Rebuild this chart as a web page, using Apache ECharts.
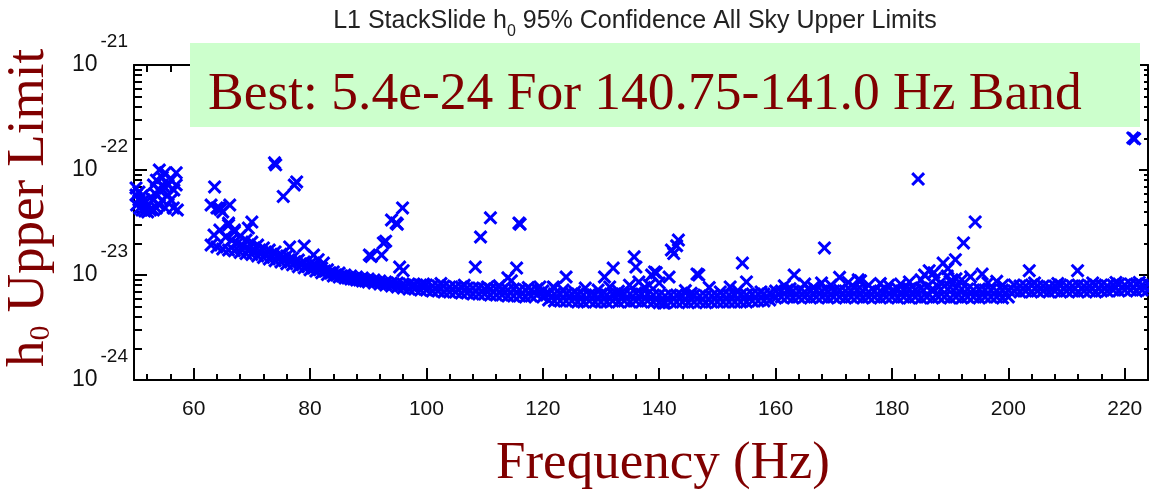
<!DOCTYPE html>
<html><head><meta charset="utf-8">
<script src="https://cdn.jsdelivr.net/npm/echarts@6/dist/echarts.min.js"></script>
<style>html,body{margin:0;padding:0;background:#fff}#c{width:1149px;height:493px}</style>
</head><body><div id="c"></div>
<script>
// ---- tick definitions ----
const xMajorTicks = [60,80,100,120,140,160,180,200,220];
const xMinorTicks = [52,56,64,68,72,76,84,88,92,96,104,108,112,116,124,128,132,136,144,148,152,156,164,168,172,176,184,188,192,196,204,208,212,216];
const yMajorTicks = [1e-24,1e-23,1e-22,1e-21];
const yTickExponents = ['-24','-23','-22','-21'];
const yMinorTicks = [2e-24,3e-24,4e-24,5e-24,6e-24,7e-24,8e-24,9e-24,
                     2e-23,3e-23,4e-23,5e-23,6e-23,7e-23,8e-23,9e-23,
                     2e-22,3e-22,4e-22,5e-22,6e-22,7e-22,8e-22,9e-22];

// ---- data: 1 Hz bands 63..224, upper and lower edge of the dense band ----
const bandFreq = [63,64,65,66,67,68,69,70,71,72,73,74,75,76,77,78,79,80,81,82,83,84,85,86,87,88,89,90,91,92,
93,94,95,96,97,98,99,100,101,102,103,104,105,106,107,108,109,110,111,112,113,114,115,116,117,118,119,120,121,122,
123,124,125,126,127,128,129,130,131,132,133,134,135,136,137,138,139,140,141,142,143,144,145,146,147,148,149,150,151,152,
153,154,155,156,157,158,159,160,161,162,163,164,165,166,167,168,169,170,171,172,173,174,175,176,177,178,179,180,181,182,
183,184,185,186,187,188,189,190,191,192,193,194,195,196,197,198,199,200,201,202,203,204,205,206,207,208,209,210,211,212,
213,214,215,216,217,218,219,220,221,222,223,224];
const bandUpper = [
4.64e-23,4.35e-23,3.98e-23,2.99e-23,2.57e-23,2.35e-23,2.15e-23,2.06e-23,1.93e-23,1.81e-23,
1.73e-23,1.66e-23,1.58e-23,1.52e-23,1.45e-23,1.39e-23,1.33e-23,1.27e-23,1.22e-23,1.165e-23,
1.12e-23,1.07e-23,1.045e-23,1.0e-23,9.78e-24,9.57e-24,9.36e-24,9.16e-24,8.96e-24,8.77e-24,
8.58e-24,8.39e-24,8.39e-24,8.21e-24,8.21e-24,8.03e-24,8.03e-24,8.03e-24,7.86e-24,7.86e-24,
7.86e-24,7.69e-24,7.69e-24,7.69e-24,7.52e-24,7.52e-24,7.52e-24,7.36e-24,7.36e-24,7.36e-24,
7.2e-24,7.2e-24,7.36e-24,7.2e-24,7.2e-24,7.2e-24,7.36e-24,7.04e-24,6.74e-24,6.59e-24,
6.59e-24,6.59e-24,6.59e-24,6.59e-24,6.45e-24,6.45e-24,6.45e-24,6.59e-24,6.45e-24,6.59e-24,
6.45e-24,6.59e-24,6.59e-24,6.74e-24,6.59e-24,6.59e-24,6.45e-24,6.45e-24,6.31e-24,6.45e-24,
6.45e-24,6.31e-24,6.31e-24,6.45e-24,6.31e-24,6.31e-24,6.31e-24,6.31e-24,6.45e-24,6.45e-24,
6.45e-24,6.45e-24,6.45e-24,6.59e-24,6.59e-24,6.59e-24,6.74e-24,7.04e-24,7.04e-24,7.2e-24,
7.04e-24,7.04e-24,6.89e-24,7.04e-24,7.2e-24,7.04e-24,6.89e-24,7.04e-24,7.2e-24,7.04e-24,
7.04e-24,7.2e-24,7.04e-24,6.89e-24,7.04e-24,7.04e-24,7.2e-24,7.04e-24,7.36e-24,7.2e-24,
7.36e-24,7.2e-24,7.52e-24,7.69e-24,7.36e-24,7.69e-24,7.86e-24,7.69e-24,7.52e-24,7.36e-24,
7.36e-24,7.2e-24,7.36e-24,7.2e-24,7.2e-24,7.04e-24,7.2e-24,7.2e-24,8.03e-24,7.86e-24,
7.86e-24,8.03e-24,7.86e-24,7.86e-24,7.69e-24,7.86e-24,8.03e-24,7.86e-24,7.86e-24,8.03e-24,
7.86e-24,7.86e-24,8.03e-24,8.03e-24,7.86e-24,8.03e-24,8.21e-24,8.03e-24,8.21e-24,8.21e-24,
8.03e-24,8.21e-24];
const bandLower = [
1.93e-23,1.85e-23,1.77e-23,1.73e-23,1.70e-23,1.64e-23,1.60e-23,1.57e-23,1.52e-23,1.47e-23,
1.42e-23,1.37e-23,1.33e-23,1.28e-23,1.25e-23,1.2e-23,1.17e-23,1.12e-23,1.09e-23,1.05e-23,
1.01e-23,9.78e-24,9.57e-24,9.36e-24,9.16e-24,8.96e-24,8.77e-24,8.58e-24,8.39e-24,8.21e-24,
8.03e-24,7.86e-24,7.69e-24,7.52e-24,7.36e-24,7.36e-24,7.2e-24,7.2e-24,7.04e-24,7.04e-24,
6.89e-24,6.89e-24,6.89e-24,6.74e-24,6.74e-24,6.59e-24,6.59e-24,6.59e-24,6.45e-24,6.45e-24,
6.45e-24,6.31e-24,6.31e-24,6.31e-24,6.17e-24,6.31e-24,6.45e-24,6.17e-24,5.78e-24,5.66e-24,
5.66e-24,5.66e-24,5.66e-24,5.53e-24,5.53e-24,5.66e-24,5.53e-24,5.53e-24,5.53e-24,5.66e-24,
5.53e-24,5.66e-24,5.53e-24,5.66e-24,5.53e-24,5.66e-24,5.53e-24,5.45e-24,5.41e-24,5.53e-24,
5.53e-24,5.53e-24,5.45e-24,5.53e-24,5.53e-24,5.45e-24,5.53e-24,5.53e-24,5.53e-24,5.53e-24,
5.53e-24,5.53e-24,5.53e-24,5.66e-24,5.66e-24,5.66e-24,5.78e-24,6.04e-24,6.17e-24,6.17e-24,
6.04e-24,6.17e-24,6.17e-24,6.04e-24,6.17e-24,6.17e-24,6.04e-24,6.17e-24,6.17e-24,6.04e-24,
6.17e-24,6.17e-24,6.04e-24,6.17e-24,6.17e-24,6.04e-24,6.17e-24,6.17e-24,6.04e-24,6.17e-24,
6.04e-24,6.17e-24,6.04e-24,6.17e-24,6.04e-24,6.17e-24,6.17e-24,6.04e-24,6.17e-24,6.04e-24,
6.17e-24,6.17e-24,6.04e-24,6.17e-24,6.17e-24,6.17e-24,6.04e-24,6.17e-24,7.04e-24,6.89e-24,
7.04e-24,6.89e-24,7.04e-24,7.04e-24,6.89e-24,7.04e-24,6.89e-24,7.04e-24,7.04e-24,6.89e-24,
7.04e-24,7.04e-24,6.89e-24,7.04e-24,7.04e-24,7.2e-24,7.04e-24,7.2e-24,7.2e-24,7.04e-24,
7.2e-24,7.2e-24];
// fill points inside the wide part of the band (63-90 Hz)
const bandMid = [[63.5,2.4e-23],[64.5,2.68e-23],[65.5,2.3e-23],[66.5,2.15e-23],[67.5,2.0e-23],[68.5,1.89e-23],
[69.5,1.77e-23],[70.5,1.73e-23],[71.5,1.66e-23],[72.5,1.58e-23],[73.5,1.52e-23],[74.5,1.49e-23],[75.5,1.42e-23],
[76.5,1.36e-23],[77.5,1.33e-23],[78.5,1.27e-23],[79.5,1.22e-23],[80.5,1.165e-23],[81.5,1.14e-23],[82.5,1.09e-23],
[83.5,1.045e-23],[84.5,1.0e-23],[85.5,9.78e-24],[86.5,9.36e-24],[87.5,9.16e-24],[88.5,8.96e-24],[89.5,8.77e-24]];
// low-frequency cluster 50-57 Hz
const lowCluster = [[50.1,6.75e-23],[50.1,5.78e-23],[50.2,4.64e-23],[50.6,6.17e-23],[50.6,5.18e-23],[50.7,4.35e-23],
[51.1,5.66e-23],[51.1,4.16e-23],[51.5,5.18e-23],[51.6,4.07e-23],[52.1,4.64e-23],[52.1,3.98e-23],[52.6,4.16e-23],
[52.6,5.5e-23],[53.1,7.2e-23],[53.1,5.18e-23],[53.1,4.16e-23],[53.6,8.0e-23],[53.6,5.78e-23],[53.6,4.35e-23],
[54.1,1.0e-22],[54.1,6.45e-23],[54.1,4.64e-23],[54.6,8.5e-23],[54.6,7.2e-23],[54.6,5.18e-23],[55.1,9.4e-23],
[55.1,6.75e-23],[55.1,4.35e-23],[55.6,7.2e-23],[55.6,5.78e-23],[56.1,8.0e-23],[56.1,5.18e-23],[56.5,4.35e-23],
[56.6,6.45e-23],[57.0,9.4e-23],[57.0,7.2e-23],[57.2,4.16e-23]];
// isolated high points
const outliers = [[63.6,6.9e-23],[64.4,4.35e-23],[64.6,4.2e-23],[66.2,4.64e-23],[66.0,3.12e-23],[67.0,2.68e-23],
[69.4,2.8e-23],[70.0,3.19e-23],[73.9,1.17e-22],[74.1,1.12e-22],[75.4,5.6e-23],[77.3,7.2e-23],[77.7,7.7e-23],
[76.5,1.85e-23],[79.0,1.89e-23],[80.6,1.55e-23],[81.4,1.4e-23],[82.3,1.3e-23],[90.2,1.55e-23],[90.5,1.5e-23],
[92.3,1.55e-23],[92.6,2.02e-23],[93.0,2.1e-23],[94.0,3.34e-23],[94.8,3.12e-23],[95.0,3.05e-23],[95.9,4.35e-23],
[95.4,1.19e-23],[96.0,1.1e-23],[108.4,1.19e-23],[109.3,2.3e-23],[111.0,3.5e-23],[115.9,3.12e-23],[116.1,3.05e-23],
[115.5,1.165e-23],[114.0,9.4e-24],[114.6,8.8e-24],[121.8,7.7e-24],[122.0,7.5e-24],[124.0,9.57e-24],[130.6,9.57e-24],
[132.1,1.165e-23],[134.9,8.0e-24],[135.7,1.49e-23],[136.0,1.19e-23],[138.3,8.0e-24],[138.7,1.0e-23],[139.2,1.07e-23],
[139.5,1.05e-23],[140.75,5.4e-24],[141.7,9.57e-24],[142.1,1.73e-23],[142.5,1.6e-23],[143.0,1.9e-23],[143.3,2.15e-23],
[146.5,1.02e-23],[146.8,1.0e-23],[152.2,7.7e-24],[154.3,1.3e-23],[155.0,8.6e-24],[163.2,1.0e-23],[167.9,8.4e-24],
[168.4,1.81e-23],[171.0,9.5e-24],[174.2,9.0e-24],[174.6,8.8e-24],[179.4,8.0e-24],[184.5,8.2e-23],[185.6,1.0e-23],
[186.4,1.1e-23],[187.2,1.05e-23],[188.8,1.3e-23],[189.6,1.15e-23],[190.9,1.4e-23],[192.3,2.02e-23],[194.3,3.2e-23],
[195.5,1.02e-23],[198.0,8.7e-24],[203.6,1.1e-23],[211.9,1.1e-23],[221.4,2.02e-22],[221.7,1.98e-22]];
// ragged points just above the band
const fuzz = [[97.5,7.9e-24],[99.5,8.2e-24],[102.5,8.3e-24],[106.5,8.0e-24],[110.5,7.7e-24],[112.5,7.9e-24],
[117.5,7.6e-24],[119.5,7.7e-24],[123.5,7.2e-24],[125.5,6.9e-24],[127.3,7.5e-24],[129.5,7.2e-24],[131.5,7.7e-24],
[133.0,7.0e-24],[136.5,8.6e-24],[137.5,7.6e-24],[140.0,8.4e-24],[144.5,7.1e-24],[145.5,6.7e-24],[148.6,7.6e-24],
[150.5,6.9e-24],[153.5,7.1e-24],[157.5,6.9e-24],[161.5,7.9e-24],[162.5,7.4e-24],[165.0,8.2e-24],[166.5,7.6e-24],
[169.5,8.0e-24],[172.5,8.5e-24],[173.5,7.7e-24],[176.0,8.0e-24],[178.0,8.3e-24],[181.5,8.2e-24],[183.0,8.6e-24],
[185.0,9.0e-24],[187.5,9.3e-24],[189.5,9.8e-24],[190.0,8.7e-24],[191.0,9.2e-24],[192.0,9.0e-24],[193.5,9.6e-24],
[196.5,8.4e-24],[199.0,8.0e-24],[204.5,8.4e-24],[208.5,8.3e-24],[214.5,8.4e-24],[218.5,8.5e-24],[222.5,8.5e-24]];

const titleText = '{a|L1 StackSlide h}{s|0}{a| 95% Confidence All Sky Upper Limits}';
const annotationText = 'Best: 5.4e-24 For 140.75-141.0 Hz Band';
const xName = 'Frequency (Hz)';
const yNameRich = '{a|h}{s|0}{a| Upper Limit}';

// ---- build the point table ----
const points = [];
bandFreq.forEach((f, i) => { points.push([f, bandUpper[i]]); points.push([f, bandLower[i]]); });
const allPoints = points.concat(bandMid, lowCluster, outliers, fuzz);

// tick positions of the log axis, expressed as decades for overlay axes
const yMajorExp = yMajorTicks.map(v => Math.log10(v));
const yMinorExp = yMinorTicks.map(v => Math.log10(v));

const chart = echarts.init(document.getElementById('c'), null, {renderer: 'canvas'});
const XMIN = 49.75, XMAX = 224, YMIN = 1e-24, YMAX = 1e-21;
const sans = '"Liberation Sans", Arial, sans-serif';
const serif = '"Liberation Serif", "Times New Roman", serif';
const GRID = {left: 134, right: 1, top: 65, bottom: 113, containLabel: false, outerBoundsMode: 'none'};
const grids = [0,1,2,3,4].map(() => Object.assign({}, GRID));
function line(show) { return {show: show, onZero: false, lineStyle: {color: '#000', width: 2}}; }

function xAx(g, pos, ticks, len, lineShow, labels) {
  return {
    type: 'value', min: XMIN, max: XMAX, position: pos, gridIndex: g, offset: 0,
    axisLine: line(lineShow), splitLine: {show: false},
    axisTick: ticks ? {show: true, inside: true, length: len, customValues: ticks, lineStyle: {color: '#000', width: 2}} : {show: false},
    axisLabel: labels ? {show: true, customValues: ticks, formatter: v => String(v), color: '#111',
      fontFamily: sans, fontSize: 21, margin: 19} : {show: false}
  };
}
function yExpAx(g, pos, ticks, len, lineShow, labels) {
  return {
    type: 'value', min: -24, max: -21, position: pos, gridIndex: g, offset: 0,
    axisLine: line(lineShow), splitLine: {show: false},
    axisTick: {show: true, inside: true, length: len, customValues: ticks, lineStyle: {color: '#000', width: 2}},
    axisLabel: labels ? {
      show: true, customValues: ticks, margin: 6, align: 'right',
      formatter: function (v) {
        let idx = 0, best = 1e9;
        yMajorExp.forEach((t, i) => { const d = Math.abs(v - t); if (d < best) { best = d; idx = i; } });
        return '{b|10}{s|' + yTickExponents[idx] + '}';
      },
      rich: {
        b: {fontFamily: sans, fontSize: 23, lineHeight: 66, color: '#111'},
        s: {fontFamily: sans, fontSize: 19, lineHeight: 19, verticalAlign: 'top', color: '#111', padding: [0, 0, 0, 3]}
      }
    } : {show: false}
  };
}

chart.setOption({
  animation: false,
  backgroundColor: '#fff',
  grid: grids,
  xAxis: [
    xAx(0, 'bottom', xMajorTicks, 12, true, true),
    xAx(1, 'bottom', xMinorTicks, 6, false, false),
    xAx(2, 'top', xMajorTicks, 10, true, false),
    xAx(3, 'top', xMinorTicks, 7, false, false),
    xAx(4, 'top', null, 0, false, false)
  ],
  yAxis: [
    {type: 'log', logBase: 10, min: YMIN, max: YMAX, position: 'left', gridIndex: 0,
     axisLine: line(true), axisTick: {show: false}, axisLabel: {show: false}, splitLine: {show: false}, minorTick: {show: false}},
    yExpAx(1, 'left', yMajorExp, 13, false, true),
    yExpAx(2, 'left', yMinorExp, 8, false, false),
    yExpAx(3, 'right', yMajorExp, 9, true, false),
    yExpAx(4, 'right', yMinorExp, 4, false, false)
  ],
  series: [{
    type: 'scatter', xAxisIndex: 0, yAxisIndex: 0,
    symbol: 'path://M0,2L2,0L6.5,4.5L11,0L13,2L8.5,6.5L13,11L11,13L6.5,8.5L2,13L0,11L4.5,6.5Z',
    symbolSize: 14,
    itemStyle: {color: '#0000ff', opacity: 1},
    emphasis: {disabled: true},
    data: allPoints
  }],
  graphic: [
    {type: 'rect', z: 100, shape: {x: 190, y: 43, width: 950, height: 84}, style: {fill: '#ccffcc'}},
    {type: 'text', z: 101, x: 208, y: 95, style: {text: annotationText, fontFamily: serif, fontSize: 53.5,
      fill: '#800000', align: 'left', verticalAlign: 'middle'}},
    {type: 'text', z: 101, x: 635, y: 21, style: {text: titleText, align: 'center', verticalAlign: 'middle',
      rich: {a: {fontFamily: sans, fontSize: 25, lineHeight: 37, fill: '#222'},
             s: {fontFamily: sans, fontSize: 16, lineHeight: 16, verticalAlign: 'bottom', fill: '#222'}}}},
    {type: 'text', z: 101, x: 663, y: 464, style: {text: xName, fontFamily: serif, fontSize: 53,
      fill: '#800000', align: 'center', verticalAlign: 'middle'}},
    {type: 'text', z: 101, x: 29, y: 208, rotation: Math.PI / 2, style: {text: yNameRich, align: 'center', verticalAlign: 'middle',
      rich: {a: {fontFamily: serif, fontSize: 53, lineHeight: 54, fill: '#800000'},
             s: {fontFamily: serif, fontSize: 30, lineHeight: 30, verticalAlign: 'bottom', fill: '#800000'}}}}
  ]
});
</script></body></html>
